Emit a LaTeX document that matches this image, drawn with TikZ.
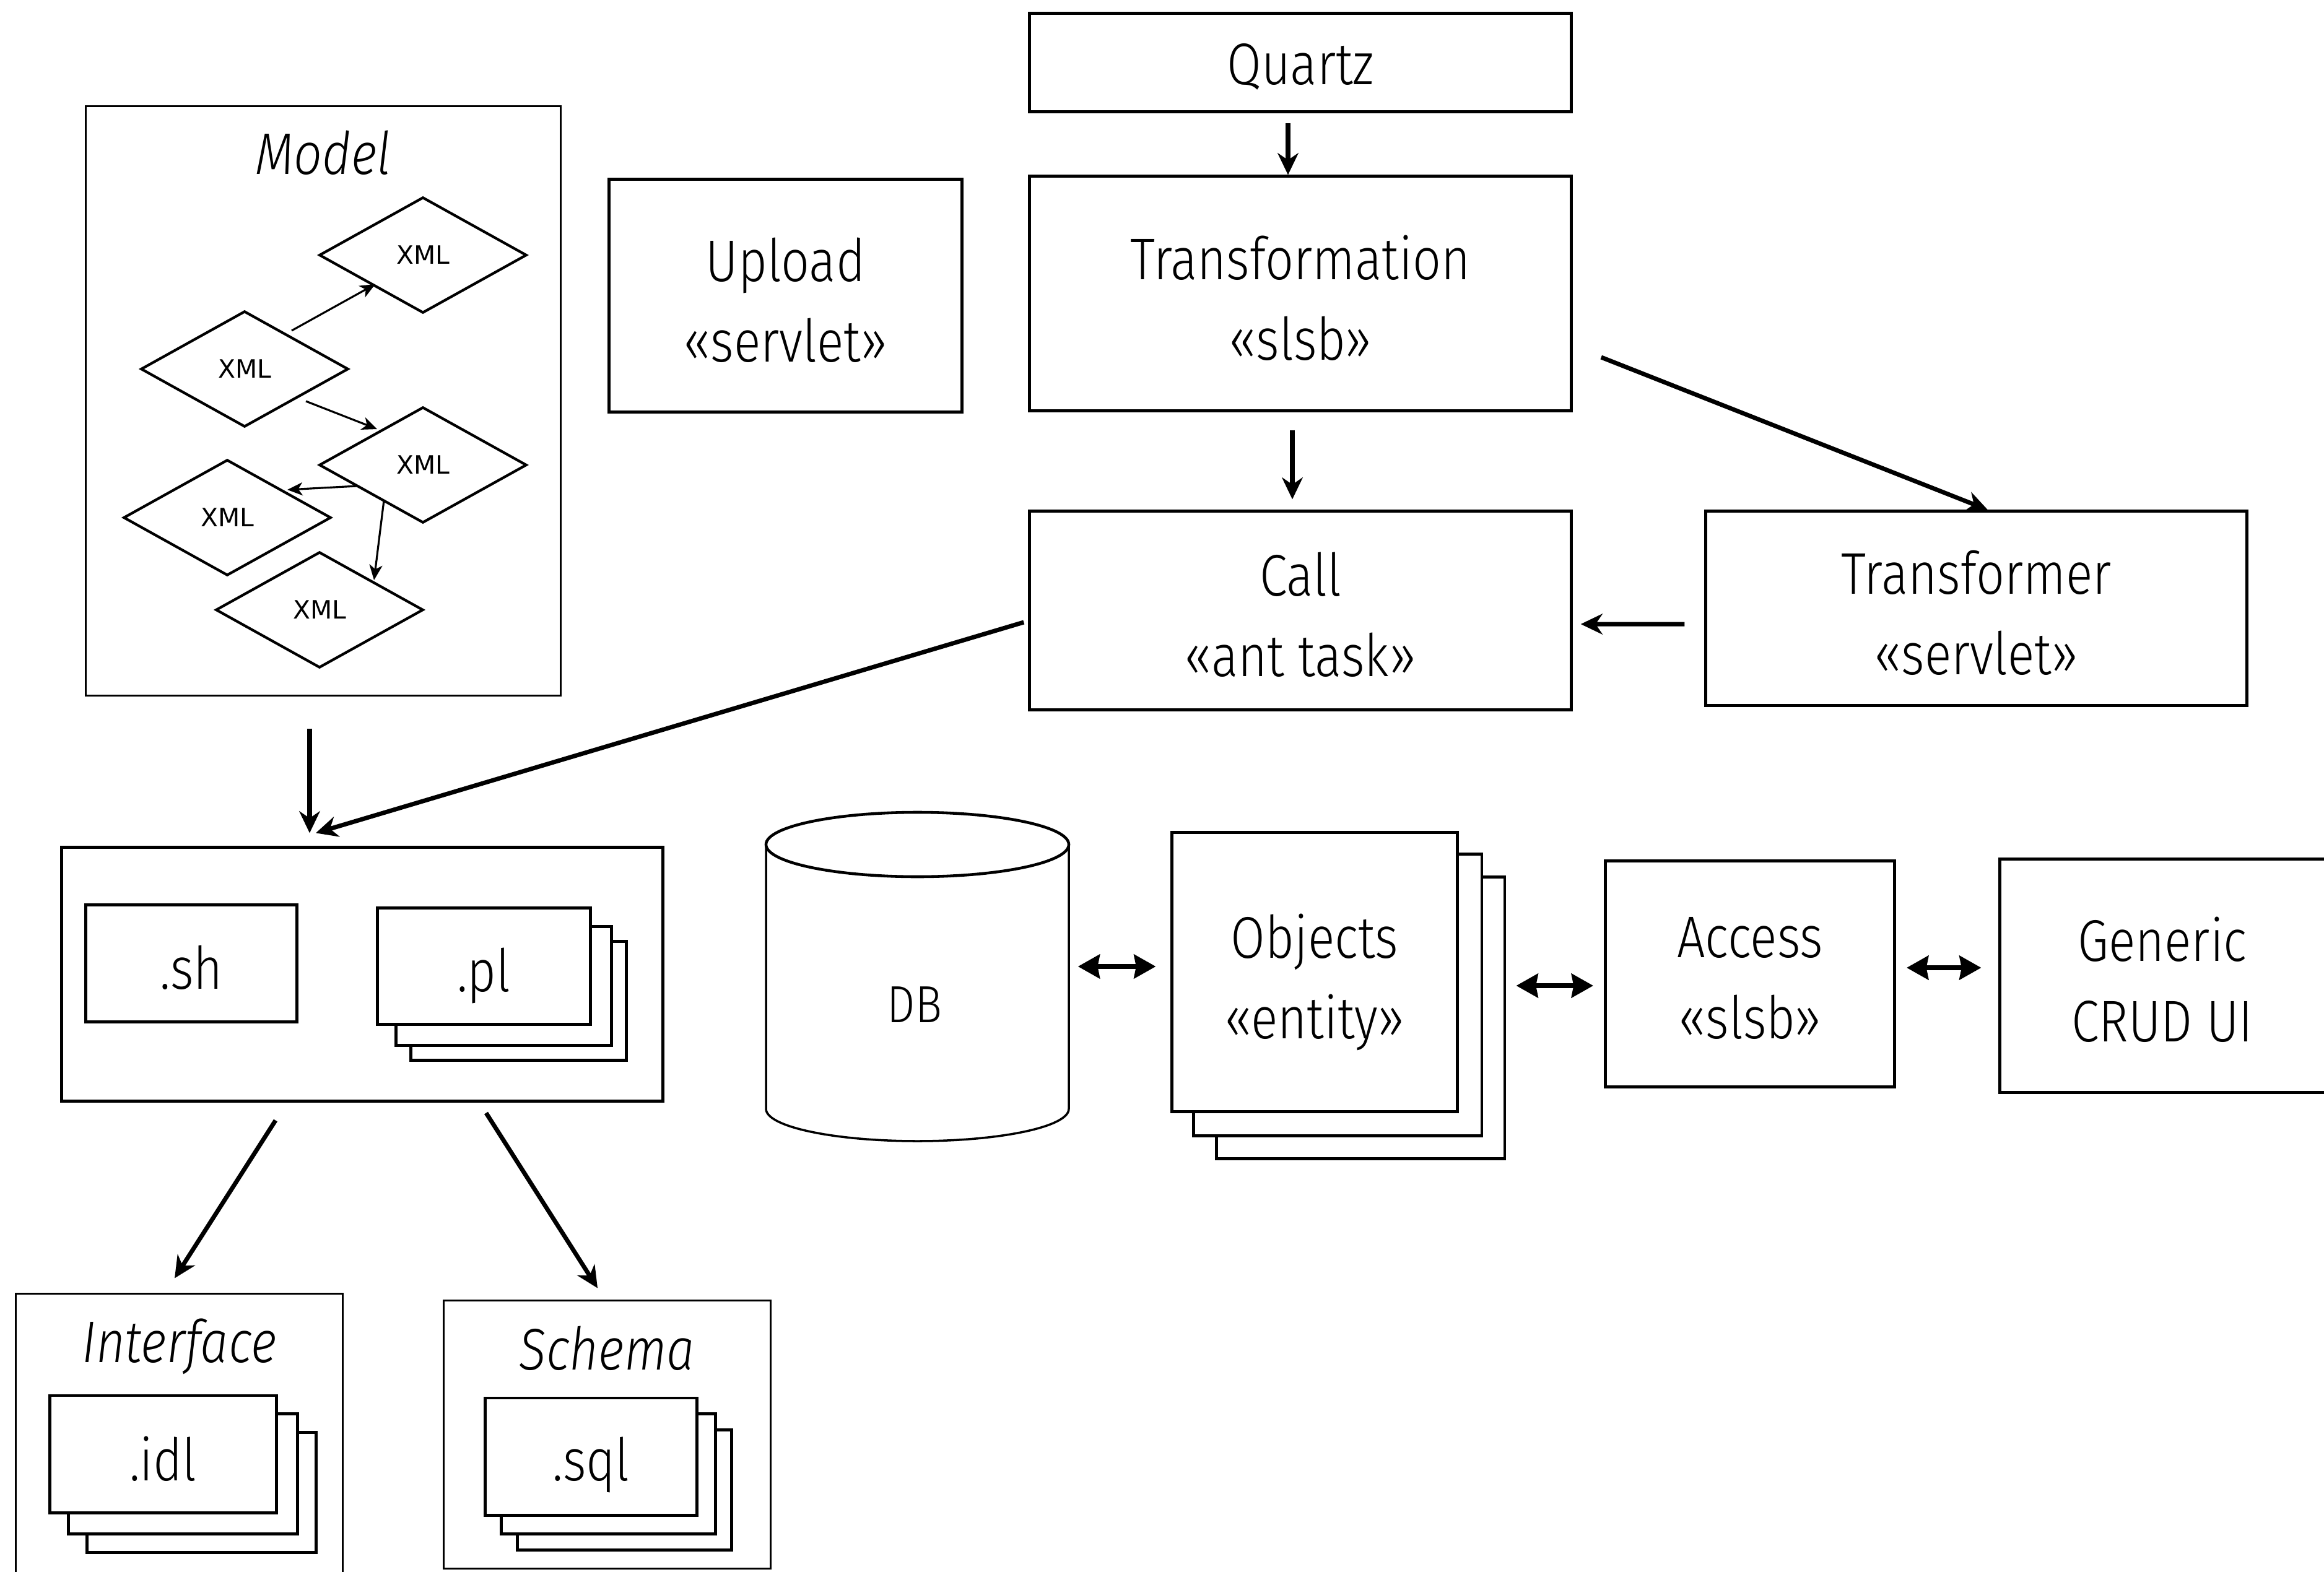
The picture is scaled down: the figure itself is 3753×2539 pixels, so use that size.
\documentclass[tikz,border=0pt]{standalone}
\usepackage{fontspec}
\setmainfont{Fira Sans}[FakeStretch=0.85, UprightFont={* Light}, ItalicFont={* Light Italic}]
\newfontfamily\xmlfont{DejaVu Sans}
\usetikzlibrary{arrows.meta,shapes.geometric,backgrounds}
\tikzset{
  box/.style={draw, line width=1.4pt, inner sep=0pt},
  frontbox/.style={box, fill=white},
  boxtext/.style={align=center, inner sep=0pt, font=\fontsize{27}{37}\selectfont},
  thinbox/.style={draw, line width=0.8pt, inner sep=0pt},
  stackback/.style={draw, line width=1.2pt, fill=white},
  title/.style={font=\fontsize{27}{37}\selectfont\itshape, inner sep=0pt},
  xmlnode/.style={diamond, draw, line width=1.2pt, inner sep=0pt, minimum width=3.35cm, minimum height=1.87cm, font=\xmlfont\fontsize{11.6}{14}\selectfont},
  arr/.style={line width=2pt, -{Stealth[length=10pt, width=9.5pt, inset=3.2pt]}},
  smallarr/.style={line width=0.9pt, -{Stealth[length=7pt, width=6pt, inset=2pt]}},
  dblarr/.style={line width=2pt, {Stealth[length=10pt, width=11pt, inset=1pt]}-{Stealth[length=10pt, width=11pt, inset=1pt]}},
}
\begin{document}
\begin{tikzpicture}[x=0.01cm, y=-0.01cm]
\useasboundingbox (0,0) rectangle (3753,2539);

% ---- Model
\node[thinbox, minimum width=7.66cm, minimum height=9.51cm] (model) at (522,647.5) {};
\node[title] (modeltitle) at (522,247) {Model};
\node[xmlnode] (d1) at (683,412) {XML};
\node[xmlnode] (d2) at (395,596) {XML};
\node[xmlnode] (d3) at (683,751) {XML};
\node[xmlnode] (d4) at (367,836) {XML};
\node[xmlnode] (d5) at (516,985) {XML};
\draw[smallarr] ([shift={(76,-62)}]d2.center) -- ([shift={(-77,47)}]d1.center);
\draw[smallarr] ([shift={(99,52)}]d2.center) -- ([shift={(-74,-58)}]d3.center);
\draw[smallarr] ([shift={(-106,34)}]d3.center) -- ([shift={(97,-45)}]d4.center);
\draw[smallarr] ([shift={(-63,57)}]d3.center) -- ([shift={(88,-48)}]d5.center);

% ---- Top row
\node[box, minimum width=5.69cm, minimum height=3.75cm] (upload) at (1268.5,477.5) {};
\node[boxtext] (uploadtext) at (1268.5,485) {Upload\\«servlet»};
\node[box, minimum width=8.74cm, minimum height=1.58cm] (quartz) at (2100,101) {};
\node[boxtext] (quartztext) at (2100,108) {Quartz};
\node[box, minimum width=8.74cm, minimum height=3.78cm] (trans) at (2100,474) {};
\node[boxtext] (transtext) at (2100,481) {Transformation\\«slsb»};
\node[box, minimum width=8.74cm, minimum height=3.20cm] (call) at (2100,986) {};
\node[boxtext] (calltext) at (2100,993) {Call\\«ant task»};
\node[box, minimum width=8.73cm, minimum height=3.13cm] (transformer) at (3191.5,982.5) {};
\node[boxtext] (transformertext) at (3191.5,990) {Transformer\\«servlet»};

\draw[arr, shorten <=0.16cm] ([xshift=-0.2cm]quartz.south) -- ([xshift=-0.2cm]trans.north);
\draw[arr, shorten <=0.29cm, shorten >=0.17cm] ([xshift=-0.13cm]trans.south) -- ([xshift=-0.13cm]call.north);
\draw[arr] ([shift={(46,103)}]trans.east) -- ([shift={(18.5,0)}]transformer.north);
\draw[arr, shorten <=0.32cm, shorten >=0.13cm] ([yshift=-0.255cm]transformer.west) -- ([yshift=-0.22cm]call.east);

% ---- Scripts
\node[box, minimum width=9.70cm, minimum height=4.09cm] (scripts) at (585,1573.5) {};
\node[frontbox, minimum width=3.40cm, minimum height=1.88cm] (sh) at (309,1556) {};
\node[boxtext] (shtext) at (309,1563) {.sh};
\node[frontbox, minimum width=3.43cm, minimum height=1.87cm] (pl) at (781.5,1560.5) {};
\node[boxtext] (pltext) at (781.5,1576) {.pl};
\draw[arr] ([shift={(-22,52)}]model.south) -- ([shift={(-85,-21)}]scripts.north);
\draw[arr] ([shift={(-7,19)}]call.west) -- ([shift={(-75,-21)}]scripts.north);

% ---- Interface / Schema
\node[thinbox, minimum width=5.27cm, minimum height=4.60cm] (interface) at (289.5,2320) {};
\node[title] (interfacetitle) at (289.5,2175) {Interface};
\node[frontbox, minimum width=3.65cm, minimum height=1.89cm] (idl) at (263.5,2348.5) {};
\node[boxtext] (idltext) at (263.5,2356) {.idl};
\node[thinbox, minimum width=5.27cm, minimum height=4.32cm] (schema) at (980.5,2317) {};
\node[title] (schematitle) at (980.5,2178) {Schema};
\node[frontbox, minimum width=3.41cm, minimum height=1.89cm] (sql) at (954.5,2352.5) {};
\node[boxtext] (sqltext) at (954.5,2366) {.sql};
\draw[arr] ([shift={(-140,29)}]scripts.south) -- ([shift={(-7.5,-24)}]interface.north);
\draw[arr] ([shift={(200,17)}]scripts.south) -- ([shift={(-15.5,-19)}]schema.north);

% ---- DB and bottom right row
\node[minimum width=4.89cm, minimum height=5.31cm, inner sep=0pt] (db) at (1481.5,1577.5) {};
\draw[line width=1pt] (1237,1364) -- (1237,1791) arc[start angle=180, end angle=360, x radius=244.5, y radius=-52] -- (1726,1364);
\draw[line width=1.3pt, fill=white] (1481.5,1364) ellipse[x radius=244.5, y radius=52];
\node[font=\fontsize{24}{30}\selectfont, inner sep=0pt] (dblabel) at (1477,1623) {DB};

\node[frontbox, minimum width=4.60cm, minimum height=4.50cm] (objects) at (2123,1570) {};
\node[boxtext] (objectstext) at (2123,1586) {Objects\\«entity»};
\node[box, minimum width=4.67cm, minimum height=3.64cm] (access) at (2826,1573) {};
\node[boxtext] (accesstext) at (2826,1580) {Access\\«slsb»};
\node[box, minimum width=5.34cm, minimum height=3.76cm] (generic) at (3497,1576) {};
\node[boxtext] (generictext) at (3492,1582) {Generic\\CRUD UI};

\draw[dblarr] ([shift={(14,-16.5)}]db.east) -- ([shift={(-24,-9)}]objects.west);
\draw[dblarr] ([shift={(93,22)}]objects.east) -- ([shift={(-17,19)}]access.west);
\draw[dblarr] ([shift={(17,-10)}]access.east) -- ([shift={(-28,-13)}]generic.west);

% ---- stack shadows
\begin{scope}[on background layer]
  \foreach \n/\a/\b in {pl/56/32, idl/62/32, sql/54/28, objects/74/37} {
    \draw[stackback] ([shift={(\a,\a)}]\n.north west) rectangle ([shift={(\a,\a)}]\n.south east);
    \draw[stackback] ([shift={(\b,\b)}]\n.north west) rectangle ([shift={(\b,\b)}]\n.south east);
  }
\end{scope}
\end{tikzpicture}
\end{document}
